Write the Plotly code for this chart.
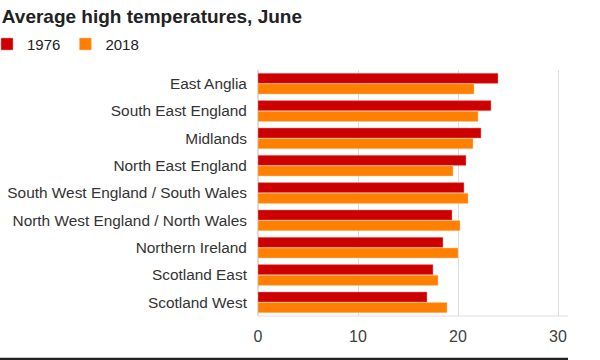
import plotly.graph_objects as go

regions = [
    "East Anglia",
    "South East England",
    "Midlands",
    "North East England",
    "South West England / South Wales",
    "North West England / North Wales",
    "Northern Ireland",
    "Scotland East",
    "Scotland West",
]
temps_1976 = [24.0, 23.3, 22.3, 20.8, 20.6, 19.4, 18.5, 17.5, 16.9]
temps_2018 = [21.6, 22.0, 21.5, 19.5, 21.0, 20.2, 20.0, 18.0, 18.9]
x_ticks = [0, 10, 20, 30]

RED = "#CC0000"
ORANGE = "#FF7F00"
FONT = "Liberation Sans, Arial, sans-serif"

fig = go.Figure()
fig.add_trace(go.Bar(
    y=regions, x=temps_1976, name="1976", orientation="h",
    marker=dict(color=RED, line=dict(color="rgba(255,150,150,0.6)", width=0.8)),
))
fig.add_trace(go.Bar(
    y=regions, x=temps_2018, name="2018", orientation="h",
    marker=dict(color=ORANGE, line=dict(color="rgba(255,200,150,0.6)", width=0.8)),
))

fig.update_layout(
    width=600, height=360,
    margin=dict(l=258, r=32, t=70, b=44, autoexpand=False),
    paper_bgcolor="white", plot_bgcolor="white",
    barmode="group", bargap=0.22, bargroupgap=0.05,
    font=dict(family=FONT, color="#404040"),
    title=dict(
        text="<b>Average high temperatures, June</b>",
        font=dict(size=19, color="#222222", family=FONT),
        xref="container", x=0.003, xanchor="left",
        yref="container", y=0.954, yanchor="middle",
    ),
    showlegend=True,
    legend=dict(
        orientation="h", xref="paper", x=-271/310, xanchor="left",
        yref="container", y=0.877, yanchor="middle",
        font=dict(size=15, color="#222222"), itemwidth=30,
        traceorder="normal", bgcolor="rgba(0,0,0,0)",
    ),
    xaxis=dict(
        range=[0, 31], tickvals=x_ticks, showgrid=True, gridcolor="#DDDDDD",
        gridwidth=1, zeroline=True, zerolinecolor="#DDDDDD",
        showline=False, ticks="outside", ticklen=6, tickcolor="rgba(0,0,0,0)",
        tickfont=dict(size=16, color="#404040"),
        fixedrange=True, automargin=False,
    ),
    yaxis=dict(
        autorange="reversed", showgrid=False, ticks="outside", ticklen=7,
        tickcolor="rgba(0,0,0,0)", tickfont=dict(size=15.4, color="#333333"),
        showline=False, fixedrange=True, automargin=False,
    ),
    shapes=[
        dict(type="line", xref="paper", yref="paper", x0=0, x1=1, y0=0, y1=0,
             line=dict(color="#DDDDDD", width=1)),
        dict(type="line", xref="paper", yref="paper", x0=-258/310, x1=1,
             y0=-(359-316)/246, y1=-(359-316)/246, line=dict(color="#222222", width=2.5)),
    ],
)

fig.write_html(
    "out.html",
    config={"displayModeBar": False},
    post_script="document.body.style.margin='0';document.body.style.padding='0';",
)
